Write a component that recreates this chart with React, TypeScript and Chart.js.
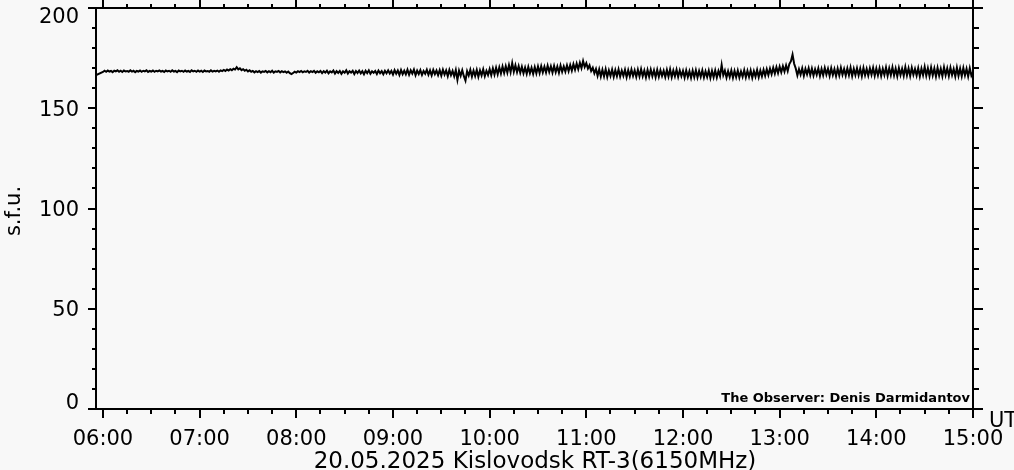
import React, { useEffect, useRef } from "react";
import { Chart, registerables } from "chart.js";

Chart.register(...registerables);

// Time axis (hours UT) and tick labels
const X_MIN = 5.928;
const X_MAX = 15;
const X_TICK_HOURS = [6, 7, 8, 9, 10, 11, 12, 13, 14, 15];
const X_TICK_LABELS = ["06:00", "07:00", "08:00", "09:00", "10:00", "11:00", "12:00", "13:00", "14:00", "15:00"];
const Y_TICK_VALUES = [0, 50, 100, 150, 200];
const Y_TICK_LABELS = ["0", "50", "100", "150", "200"];

const TITLE = "20.05.2025 Kislovodsk RT-3(6150MHz)";
const Y_TITLE = "s.f.u.";
const X_UNIT = "UT";
const OBSERVER = "The Observer: Denis Darmidantov";

// Flux (s.f.u.), one sample per minute
const START_HOUR = 6;
const STEP_MIN = 1;
const LEAD_POINT = { x: 5.93, y: 166.6 };
const FLUX_06 = [
  168.1, 168.7, 168.2, 168.8, 168.3, 168.6, 168.0, 168.7, 168.4, 168.9,
  168.2, 168.7, 168.1, 168.8, 168.4, 168.6, 168.2, 168.9, 168.3, 168.7,
  168.0, 168.6, 168.3, 168.8, 168.2, 168.7, 168.4, 168.9, 168.1, 168.6,
  168.3, 168.8, 168.2, 168.7, 168.4, 168.9, 168.3, 168.6, 168.1, 168.8,
  168.4, 168.7, 168.2, 168.9, 168.3, 168.6, 168.0, 168.8, 168.4, 168.7,
  168.2, 168.8, 168.3, 168.6, 168.1, 168.9, 168.4, 168.7, 168.2, 168.8,
];
const FLUX_07 = [
  168.3, 168.7, 168.1, 168.8, 168.4, 168.6, 168.2, 168.9, 168.3, 168.7,
  168.4, 168.8, 168.2, 168.9, 168.5, 169.1, 168.6, 169.3, 168.8, 169.5,
  169.0, 169.7, 169.3, 170.5, 169.4, 169.9, 169.0, 169.5, 168.7, 169.2,
  168.4, 168.9, 168.2, 168.6, 167.9, 168.5, 168.0, 168.6, 167.8, 168.4,
  168.1, 168.6, 167.9, 168.5, 168.0, 168.7, 167.8, 168.4, 168.1, 168.6,
  167.9, 168.5, 168.0, 168.4, 167.7, 168.3, 167.5, 167.0, 167.6, 168.2,
];
const FLUX_08 = [
  167.8, 168.5, 168.0, 168.6, 167.9, 168.4, 168.1, 168.7, 167.8, 168.5,
  168.0, 168.6, 167.7, 168.4, 167.9, 168.6, 167.5, 168.5, 167.8, 168.7,
  167.4, 168.4, 167.9, 168.8, 167.3, 168.5, 167.6, 168.6, 167.2, 168.4,
  167.7, 168.9, 167.3, 168.5, 167.8, 168.7, 167.1, 168.6, 167.6, 168.8,
  167.4, 168.5, 167.0, 168.7, 167.5, 168.9, 167.2, 168.4, 167.7, 168.6,
  167.1, 168.8, 167.5, 168.5, 167.0, 168.7, 167.4, 168.9, 167.3, 168.6,
];
const FLUX_09 = [
  166.8, 169.0, 167.2, 168.8, 166.6, 169.1, 167.0, 168.7, 166.9, 169.2,
  166.7, 168.9, 167.3, 169.3, 166.5, 168.8, 167.1, 169.0, 166.6, 168.6,
  167.2, 169.2, 166.7, 168.9, 166.4, 169.1, 167.0, 168.8, 166.5, 169.0,
  166.3, 169.2, 166.8, 168.9, 166.0, 169.1, 166.5, 168.6, 165.9, 169.0,
  164.2, 168.7, 166.2, 169.0, 166.0, 163.8, 168.5, 166.3, 169.2, 165.8,
  168.8, 166.1, 169.1, 165.7, 168.9, 166.4, 169.4, 166.0, 168.7, 166.6,
];
const FLUX_10 = [
  169.5, 166.5, 169.9, 166.8, 170.2, 167.0, 170.4, 167.3, 170.8, 167.6,
  171.0, 167.8, 171.5, 168.0, 172.5, 168.2, 171.4, 168.0, 171.0, 167.7,
  170.7, 167.4, 170.3, 167.2, 170.6, 167.5, 170.2, 167.1, 170.5, 167.4,
  170.8, 167.6, 171.0, 167.9, 170.7, 167.8, 171.2, 168.1, 170.9, 167.8,
  171.1, 168.0, 170.8, 167.7, 171.3, 168.2, 170.9, 168.3, 171.4, 168.5,
  171.6, 168.8, 172.0, 169.2, 172.3, 169.5, 172.7, 170.0, 173.6, 170.6,
];
const FLUX_11 = [
  172.5, 169.8, 171.4, 168.6, 170.2, 167.4, 169.6, 166.2, 169.4, 165.8,
  169.2, 165.9, 169.5, 165.6, 168.9, 166.1, 169.3, 165.7, 169.0, 166.0,
  169.4, 165.8, 168.8, 166.2, 169.2, 165.5, 169.0, 165.9, 169.3, 166.1,
  168.9, 165.6, 169.2, 165.9, 169.5, 166.0, 168.8, 165.4, 169.1, 165.8,
  169.3, 166.0, 168.9, 165.5, 169.2, 165.7, 169.0, 166.1, 168.7, 165.6,
  169.1, 165.8, 169.4, 165.5, 168.8, 165.9, 169.2, 165.6, 168.9, 166.0,
];
const FLUX_12 = [
  168.7, 165.3, 168.9, 165.6, 168.5, 165.2, 168.8, 165.5, 169.0, 165.4,
  168.6, 165.7, 168.9, 165.3, 168.4, 165.6, 168.8, 165.1, 168.7, 165.5,
  168.9, 165.4, 168.6, 166.0, 171.6, 166.5, 168.8, 165.3, 168.5, 165.6,
  168.9, 165.2, 168.6, 165.5, 168.8, 165.3, 168.4, 165.7, 169.0, 165.4,
  168.7, 165.6, 168.9, 165.2, 168.5, 165.8, 169.1, 165.5, 168.8, 165.9,
  169.2, 166.2, 169.5, 166.6, 169.8, 167.0, 170.2, 167.3, 170.5, 167.6,
];
const FLUX_13 = [
  170.8, 168.0, 171.0, 168.3, 171.4, 168.6, 172.0, 173.5, 176.8, 172.2,
  169.8, 166.4, 169.5, 166.8, 169.9, 166.2, 169.6, 166.9, 170.0, 166.5,
  169.8, 166.3, 169.4, 166.7, 169.9, 166.1, 169.6, 166.5, 170.1, 166.8,
  169.7, 166.2, 170.0, 166.6, 169.5, 166.0, 169.8, 166.4, 170.2, 166.7,
  169.6, 166.3, 169.9, 166.5, 170.3, 166.1, 169.7, 166.6, 170.0, 166.4,
  169.8, 166.0, 170.1, 166.5, 169.6, 166.3, 169.9, 166.7, 170.2, 166.2,
];
const FLUX_14 = [
  169.8, 166.4, 170.0, 166.1, 169.7, 166.6, 170.3, 166.2, 169.9, 166.5,
  170.4, 166.3, 169.8, 166.0, 170.1, 166.6, 169.7, 166.2, 170.5, 166.4,
  169.9, 166.1, 170.2, 166.7, 169.6, 166.3, 170.0, 165.9, 169.8, 166.5,
  170.6, 166.2, 169.9, 166.0, 170.3, 166.4, 169.8, 165.8, 170.1, 166.3,
  169.7, 166.0, 170.4, 166.5, 169.9, 166.1, 170.2, 166.6, 169.6, 165.9,
  170.3, 166.2, 169.8, 166.0, 170.1, 166.4, 169.7, 165.9, 170.0, 166.3,
];
const FLUX_15 = [168.0];

const BG = "#f8f8f8";
const FONT = "'DejaVu Sans', sans-serif";

function buildPoints() {
  const all = [
    ...FLUX_06, ...FLUX_07, ...FLUX_08, ...FLUX_09, ...FLUX_10,
    ...FLUX_11, ...FLUX_12, ...FLUX_13, ...FLUX_14, ...FLUX_15,
  ];
  const pts = [LEAD_POINT];
  all.forEach((v, i) => pts.push({ x: START_HOUR + (i * STEP_MIN) / 60, y: v }));
  return pts;
}

const framePlugin = {
  id: "frame",
  beforeDraw(chart: any) {
    const ctx = chart.ctx;
    ctx.save();
    ctx.fillStyle = BG;
    ctx.fillRect(0, 0, chart.width, chart.height);
    ctx.restore();
  },
  afterDraw(chart: any) {
    const ctx = chart.ctx;
    const { left, right, top, bottom } = chart.chartArea;
    const x = chart.scales.x;
    const y = chart.scales.y;
    ctx.save();
    ctx.strokeStyle = "#000";
    ctx.fillStyle = "#000";
    ctx.lineWidth = 2;
    const seg = (x1: number, y1: number, x2: number, y2: number) => {
      ctx.beginPath();
      ctx.moveTo(x1, y1);
      ctx.lineTo(x2, y2);
      ctx.stroke();
    };
    // frame
    seg(left, top, right, top);
    seg(left, bottom, right, bottom);
    seg(left, top - 1, left, bottom + 1);
    seg(right, top - 1, right, bottom + 1);

    // x ticks every 15 min
    for (let m = 6 * 60; m <= 15 * 60; m += 15) {
      const px = Math.round(x.getPixelForValue(m / 60));
      const major = m % 60 === 0;
      seg(px, bottom, px, bottom + (major ? 9 : 5));
      seg(px, top, px, top - (major ? 8 : 4));
    }
    // y ticks every 10
    for (let v = 0; v <= 200; v += 10) {
      const py = Math.round(y.getPixelForValue(v));
      const major = v % 50 === 0;
      seg(left - (major ? 8 : 4), py, left, py);
      seg(right, py, right + (major ? 10 : 6), py);
    }

    // labels
    ctx.font = `21px ${FONT}`;
    ctx.textBaseline = "alphabetic";
    ctx.textAlign = "center";
    X_TICK_HOURS.forEach((h, i) => {
      ctx.fillText(X_TICK_LABELS[i], x.getPixelForValue(h), 445);
    });
    ctx.textAlign = "right";
    Y_TICK_VALUES.forEach((v, i) => {
      const py = y.getPixelForValue(v);
      let base = py + 7.5;
      if (v === 200) base = py + 15;
      if (v === 0) base = py;
      ctx.fillText(Y_TICK_LABELS[i], 79, base);
    });
    // unit
    ctx.textAlign = "left";
    ctx.fillText(X_UNIT, 989, 427);
    // title
    ctx.textAlign = "center";
    ctx.font = `23px ${FONT}`;
    ctx.fillText(TITLE, 535, 468);
    // y title
    ctx.save();
    ctx.translate(20, 211);
    ctx.rotate(-Math.PI / 2);
    ctx.font = `21px ${FONT}`;
    ctx.textAlign = "center";
    ctx.fillText(Y_TITLE, 0, 0);
    ctx.restore();
    // observer
    ctx.font = `bold 13px ${FONT}`;
    ctx.textAlign = "right";
    ctx.fillText(OBSERVER, 970, 402);
    ctx.restore();
  },
};

export default function App() {
  const ref = useRef<HTMLCanvasElement | null>(null);
  useEffect(() => {
    if (!ref.current) return;
    const chart = new Chart(ref.current, {
      type: "line",
      data: {
        datasets: [
          {
            data: buildPoints(),
            borderColor: "#000",
            borderWidth: 2,
            pointRadius: 0,
            tension: 0,
            fill: false,
          },
        ],
      },
      options: {
        responsive: false,
        animation: false,
        devicePixelRatio: 1,
        layout: { padding: { left: 96, right: 41, top: 8, bottom: 61 } },
        plugins: { legend: { display: false }, tooltip: { enabled: false }, title: { display: false } },
        scales: {
          x: { type: "linear", min: X_MIN, max: X_MAX, display: false },
          y: { type: "linear", min: 0, max: 200, display: false },
        },
      },
      plugins: [framePlugin],
    });
    return () => chart.destroy();
  }, []);
  return (
    <div style={{ position: "fixed", left: 0, top: 0, width: 1014, height: 470, background: BG }}>
      <canvas ref={ref} width={1014} height={470} style={{ display: "block", width: 1014, height: 470 }} />
    </div>
  );
}
